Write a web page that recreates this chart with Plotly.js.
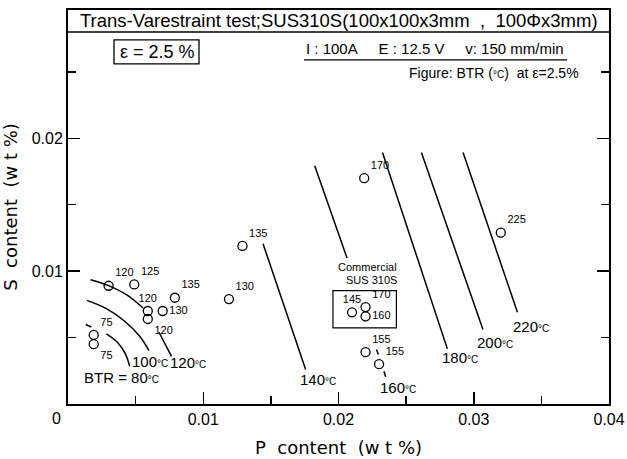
<!DOCTYPE html>
<html>
<head>
<meta charset="utf-8">
<script src="https://cdn.plot.ly/plotly-3.0.1.min.js"></script>
<style>html,body{margin:0;padding:0;background:#fff;}</style>
</head>
<body>
<div id="chart" style="width:627px;height:459px;"></div>
<script>
// ---- data: measured points (P wt%, S wt%, BTR °C) ----
const pContent = [0.0030, 0.0049, 0.0059, 0.0059, 0.0070, 0.0079, 0.0119, 0.0019, 0.0019, 0.0129,
                  0.0219, 0.0210, 0.0220, 0.0220, 0.0220, 0.0230, 0.0320];
const sContent = [0.0089, 0.0090, 0.0070, 0.0064, 0.0070, 0.0080, 0.0079, 0.0052, 0.0045, 0.0119,
                  0.0170, 0.0069, 0.0073, 0.0066, 0.0039, 0.0030, 0.0129];
const btr      = [120, 125, 120, 120, 130, 135, 130, 75, 75, 135,
                  170, 145, 170, 160, 155, 155, 225];

// ---- iso-BTR lines (P, S) ----
const iso80P  = [0.00131, 0.00173, null, 0.00284, 0.00370, 0.00427, 0.00456];
const iso80S  = [0.00598, 0.00580, null, 0.00528, 0.00460, 0.00372, 0.00284];
const iso100P = [0.00140, 0.00284, 0.00419, 0.00530, 0.00599];
const iso100S = [0.00780, 0.00718, 0.00623, 0.00510, 0.00402];
const iso120P = [0.00166, 0.00296, 0.00432, 0.00555, null, 0.00673, 0.00765];
const iso120S = [0.00936, 0.00893, 0.00823, 0.00723, null, 0.00540, 0.00359];
const iso140P = [0.01442, 0.01757];
const iso140S = [0.01207, 0.00259];
const iso160P = [0.01824, 0.02063, null, 0.02280, 0.02295, null, 0.02336, 0.02349];
const iso160S = [0.01793, 0.01099, null, 0.00410, 0.00372, null, 0.00247, 0.00205];
const iso180P = [0.02325, 0.02805];
const iso180S = [0.01893, 0.00415];
const iso200P = [0.02613, 0.03068];
const iso200S = [0.01893, 0.00560];
const iso220P = [0.02921, 0.03323];
const iso220S = [0.01893, 0.00690];

const isoLabels = ["BTR = 80", "100", "120", "140", "160", "180", "200", "220"];
const isoLabelP = [0.00397, 0.00608, 0.00885, 0.01846, 0.02438, 0.02896, 0.03155, 0.03421];
const isoLabelS = [0.00203, 0.00322, 0.00310, 0.00184, 0.00128, 0.00350, 0.00462, 0.00585];

// ---- axis ticks ----
const xTickVals = [0.01, 0.02, 0.03, 0.04];
const xTickText = ["0.01", "0.02", "0.03", "0.04"];
const yTickVals = [0.01, 0.02];
const yTickText = ["0.01", "0.02"];

// label placement (style only)
const labelPos = ["top right","top right","top center","bottom right","middle right","top right","top right","top right","bottom right","top right",
                  "top right","top center","top right","middle right","top right","top right","top right"];

const FONT = "Liberation Sans, Arial, sans-serif";
const TFONT = "DejaVu Sans, sans-serif";
const lineStyle = {color:"#000", width:1.5};

function iso(p, s, smooth){
  return {x:p, y:s, mode:"lines", type:"scatter", connectgaps:false,
          line:Object.assign({shape: smooth ? "spline" : "linear"}, lineStyle),
          hoverinfo:"skip", showlegend:false};
}

const traces = [
  iso(iso80P, iso80S, true), iso(iso100P, iso100S, true), iso(iso120P, iso120S, true),
  iso(iso140P, iso140S), iso(iso160P, iso160S), iso(iso180P, iso180S),
  iso(iso200P, iso200S), iso(iso220P, iso220S),
  {x:pContent, y:sContent, text:btr.map(String), mode:"markers+text", type:"scatter",
   textposition:labelPos, textfont:{family:FONT, size:11, color:"#000"},
   marker:{symbol:"circle-open", size:9, color:"#000", line:{width:1.3, color:"#000"}},
   cliponaxis:false, showlegend:false}
];

function ann(o){ return Object.assign({showarrow:false, xanchor:"center", yanchor:"middle"}, o); }

const annotations = isoLabels.map((t,i)=>ann({
  x:isoLabelP[i], y:isoLabelS[i], xref:"x", yref:"y",
  text: t + "<span style='font-size:10px'>°C</span>",
  font:{family:FONT, size:15, color:"#000"}
}));

// paper helpers for header (plot area: 68..609 px, 10..404.5 px)
const py = v => (404.5 - v)/394.5;
const px = v => (v - 68)/541;
const sp = n => "\u00a0".repeat(n);

annotations.push(
  ann({x:px(339), y:py(21), xref:"paper", yref:"paper",
   text:"Trans-Varestraint test;SUS310S(100x100x3mm" + sp(2) + "," + sp(2) + "100Φx3mm)",
   font:{family:FONT, size:18.5, color:"#000"}}),
  ann({x:px(157), y:py(52), xref:"paper", yref:"paper",
   text:"ε = 2.5 %", font:{family:FONT, size:18, color:"#000"}}),
  ann({x:px(435), y:py(49), xref:"paper", yref:"paper",
   text:"I : 100A" + sp(5) + "E : 12.5 V" + sp(5) + "v: 150 mm/min", font:{family:FONT, size:15, color:"#000"}}),
  ann({x:px(494), y:py(73), xref:"paper", yref:"paper",
   text:"Figure: BTR (<span style='font-size:10px'>°C</span>)" + sp(2) + "at ε=2.5%", font:{family:FONT, size:14, color:"#000"}}),
  ann({x:0.02218, y:0.01029, xref:"x", yref:"y",
   text:"Commercial", font:{family:FONT, size:11, color:"#000"}}),
  ann({x:0.02243, y:0.00936, xref:"x", yref:"y",
   text:"SUS 310S", font:{family:FONT, size:11, color:"#000"}}),
  ann({x:px(56.7), y:py(419.3), xref:"paper", yref:"paper",
   text:"0", font:{family:FONT, size:16, color:"#000"}})
);

const shapes = [
  {type:"line", xref:"paper", yref:"paper", x0:0, x1:1, y0:py(32), y1:py(32), line:{color:"#000", width:1.5}},
  {type:"rect", xref:"paper", yref:"paper", x0:px(114), x1:px(199), y0:py(64), y1:py(40), line:{color:"#000", width:1.3}},
  {type:"line", xref:"paper", yref:"paper", x0:px(304), x1:px(567), y0:py(60), y1:py(60), line:{color:"#000", width:1.3}},
  {type:"rect", xref:"x", yref:"y", x0:0.01959, x1:0.02428, y0:0.00573, y1:0.00853, line:{color:"#000", width:1.2}}
];

const layout = {
  width:627, height:459,
  margin:{l:68, r:18, t:10, b:54.5},
  paper_bgcolor:"#fff", plot_bgcolor:"#fff",
  font:{family:FONT, color:"#000"},
  showlegend:false,
  xaxis:{range:[0,0.04], showgrid:false, zeroline:false, showline:true, linecolor:"#000", linewidth:2,
         mirror:true, ticks:"inside", ticklen:12, tickwidth:1.5, tickcolor:"#000",
         tickvals:xTickVals, ticktext:xTickText, tickfont:{family:FONT, size:16, color:"#000"},
         minor:{ticks:"inside", ticklen:8, tickwidth:1.5, tickcolor:"#000", tickvals:[0.005,0.015,0.025,0.035]},
         title:{text:"P" + sp(2) + "content" + sp(2) + "(w t %)", font:{family:TFONT, size:18, color:"#000"}, standoff:14}},
  yaxis:{range:[0,0.02966], showgrid:false, zeroline:false, showline:true, linecolor:"#000", linewidth:2,
         mirror:"ticks", ticks:"inside", ticklen:12, tickwidth:1.5, tickcolor:"#000",
         tickvals:yTickVals, ticktext:yTickText, tickfont:{family:FONT, size:16, color:"#000"},
         minor:{ticks:"inside", ticklen:8, tickwidth:1.5, tickcolor:"#000", tickvals:[0.005,0.015,0.025]},
         title:{text:"S" + sp(2) + "content" + sp(2) + "(w t %)", font:{family:TFONT, size:18, color:"#000"}, standoff:12}},
  annotations:annotations,
  shapes:shapes
};

Plotly.newPlot("chart", traces, layout, {displayModeBar:false, staticPlot:true});
</script>
</body>
</html>
